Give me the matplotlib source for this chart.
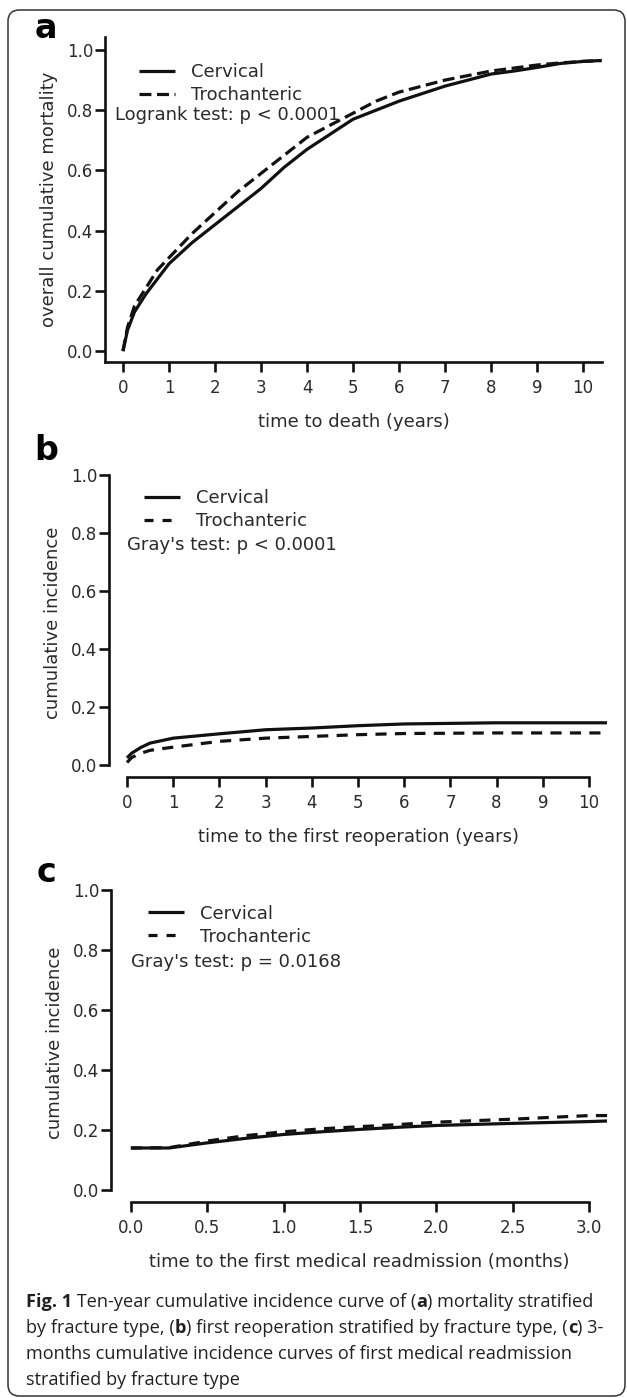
import matplotlib
matplotlib.use("Agg")
import matplotlib.pyplot as plt
from matplotlib.patches import FancyBboxPatch

# ---- data ----
# (a) overall cumulative mortality, years
t_death = [0, 0.1, 0.25, 0.5, 0.75, 1, 1.5, 2, 2.5, 3, 3.5, 4, 4.5, 5, 5.5,
           6, 6.5, 7, 7.5, 8, 8.5, 9, 9.5, 10, 10.4]
mort_cervical = [0.0, 0.07, 0.13, 0.19, 0.24, 0.29, 0.36, 0.42, 0.48, 0.54, 0.61,
                 0.67, 0.72, 0.77, 0.80, 0.83, 0.855, 0.88, 0.90, 0.92, 0.93,
                 0.942, 0.955, 0.962, 0.965]
mort_troch = [0.0, 0.08, 0.15, 0.21, 0.27, 0.31, 0.39, 0.46, 0.53, 0.59, 0.65,
              0.71, 0.75, 0.79, 0.83, 0.86, 0.88, 0.90, 0.915, 0.93, 0.94,
              0.95, 0.957, 0.962, 0.965]

# (b) first reoperation, years
t_reop = [0, 0.1, 0.3, 0.5, 1, 2, 3, 4, 5, 6, 8, 10.4]
reop_cervical = [0.024, 0.04, 0.06, 0.075, 0.092, 0.107, 0.121, 0.127, 0.135,
                 0.141, 0.145, 0.145]
reop_troch = [0.008, 0.025, 0.04, 0.05, 0.061, 0.081, 0.092, 0.098, 0.104,
              0.108, 0.11, 0.11]

# (c) first medical readmission, months
t_readm = [0, 0.25, 0.5, 0.75, 1.0, 1.25, 1.5, 1.75, 2.0, 2.5, 3.0, 3.12]
readm_cervical = [0.140, 0.140, 0.157, 0.172, 0.185, 0.194, 0.202, 0.209,
                  0.215, 0.222, 0.228, 0.230]
readm_troch = [0.140, 0.141, 0.163, 0.181, 0.194, 0.204, 0.211, 0.218, 0.226,
               0.236, 0.248, 0.248]

y_ticks = [0.0, 0.2, 0.4, 0.6, 0.8, 1.0]
year_ticks = list(range(0, 11))
month_ticks = [0.0, 0.5, 1.0, 1.5, 2.0, 2.5, 3.0]

W, H = 627, 1398
plt.rcParams["font.family"] = "DejaVu Sans"
plt.rcParams["lines.scale_dashes"] = False
INK = "#111111"
TXT = "#2a2a2a"

fig = plt.figure(figsize=(W / 100, H / 100), dpi=100)


def rect(left, top, right, bottom):
    # pixel box -> figure fraction
    return [left / W, 1 - bottom / H, (right - left) / W, (bottom - top) / H]


panels = [
    dict(box=rect(105, 37, 602, 362), xlim=(-0.39, 10.41), ylim=(-0.036, 1.043),
         t=t_death, c=mort_cervical, tr=mort_troch, xticks=year_ticks,
         xfmt="{:d}", ylabel="overall cumulative mortality",
         xlabel="time to death (years)", note="Logrank test: p < 0.0001",
         letter="a", dash=(8.6, 4.0), legdash=(8.6, 4.0), bounded=False,
         leg=(0.068, 0.92), notexy=(0.020, 0.761), letter_y=28),
    dict(box=rect(109, 468, 607, 777), xlim=(-0.39, 10.39), ylim=(-0.042, 1.024),
         t=t_reop, c=reop_cervical, tr=reop_troch, xticks=year_ticks,
         xfmt="{:d}", ylabel="cumulative incidence",
         xlabel="time to the first reoperation (years)",
         note="Gray's test: p < 0.0001", letter="b", dash=(8.0, 6.0),
         legdash=(6.5, 6.5), bounded=True, leg=(0.070, 0.932),
         notexy=(0.036, 0.75), letter_y=450),
    dict(box=rect(111, 883, 607, 1202), xlim=(-0.13, 3.118), ylim=(-0.04, 1.023),
         t=t_readm, c=readm_cervical, tr=readm_troch, xticks=month_ticks,
         xfmt="{:.1f}", ylabel="cumulative incidence",
         xlabel="time to the first medical readmission (months)",
         note="Gray's test: p = 0.0168", letter="c", dash=(8.0, 6.0),
         legdash=(6.5, 6.5), bounded=True, leg=(0.0744, 0.932),
         notexy=(0.040, 0.752), letter_y=873),
]

for p in panels:
    ax = fig.add_axes(p["box"])
    ax.plot(p["t"], p["c"], color=INK, lw=2.3, solid_capstyle="butt",
            label="Cervical")
    ax.plot(p["t"], p["tr"], color=INK, lw=2.3, linestyle=(0, p["dash"]),
            dash_capstyle="butt", label="Trochanteric")
    ax.set_xlim(*p["xlim"])
    ax.set_ylim(*p["ylim"])
    ax.set_yticks(y_ticks)
    ax.set_yticklabels([f"{v:.1f}" for v in y_ticks])
    ax.set_xticks(p["xticks"])
    ax.set_xticklabels([p["xfmt"].format(v) for v in p["xticks"]])
    for s in ["top", "right"]:
        ax.spines[s].set_visible(False)
    for s in ["left", "bottom"]:
        ax.spines[s].set_linewidth(1.9)
        ax.spines[s].set_color(INK)
    ax.tick_params(direction="out", length=7, width=1.9, colors=INK,
                   labelcolor=TXT, labelsize=12)
    ax.tick_params(axis="x", pad=5.0)
    ax.tick_params(axis="y", pad=1.5)
    if p["bounded"]:
        ax.spines["left"].set_bounds(0, 1)
        ax.spines["bottom"].set_bounds(p["xticks"][0], p["xticks"][-1])
    ax.set_ylabel(p["ylabel"], fontsize=13, color=TXT, labelpad=6)
    ax.set_xlabel(p["xlabel"], fontsize=13, color=TXT, labelpad=12)

    leg = ax.legend(loc="upper left", bbox_to_anchor=p["leg"], frameon=False,
                    fontsize=13, handlelength=2.0, handletextpad=0.9,
                    borderpad=0, borderaxespad=0, labelspacing=0.28)
    for txt in leg.get_texts():
        txt.set_color(TXT)
    leg.get_lines()[1].set_linestyle((0, p["legdash"]))
    ax.text(p["notexy"][0], p["notexy"][1], p["note"], transform=ax.transAxes,
            fontsize=13, color=TXT, va="center", ha="left")

    fig.text(46 / W, 1 - p["letter_y"] / H, p["letter"], fontsize=24,
             fontweight="bold", color="#000000", ha="center", va="center")

# rounded frame around the whole figure
frame = FancyBboxPatch((8 / W, 2 / H), (W - 10) / W, (H - 12) / H,
                       boxstyle="round,pad=0,rounding_size=0.018",
                       transform=fig.transFigure, fill=False, lw=1.1,
                       edgecolor="#333333", mutation_aspect=W / H)
fig.patches.append(frame)

# caption with bold pieces
caption = [
    [("Fig. 1", True), (" Ten-year cumulative incidence curve of (", False),
     ("a", True), (") mortality stratified", False)],
    [("by fracture type, (", False), ("b", True),
     (") first reoperation stratified by fracture type, (", False),
     ("c", True), (") 3-", False)],
    [("months cumulative incidence curves of first medical readmission", False)],
    [("stratified by fracture type", False)],
]
cap_baselines = [1307, 1333, 1359, 1385]
renderer = fig.canvas.get_renderer()
for row, parts in zip(cap_baselines, caption):
    x = 26 / W
    for s, bold in parts:
        t = fig.text(x, 1 - row / H, s, fontsize=13.1, family="Open Sans",
                     fontweight="bold" if bold else "normal", color="#231f20",
                     va="baseline", ha="left")
        x += t.get_window_extent(renderer).width / fig.bbox.width

fig.savefig("out.png", dpi=100)
